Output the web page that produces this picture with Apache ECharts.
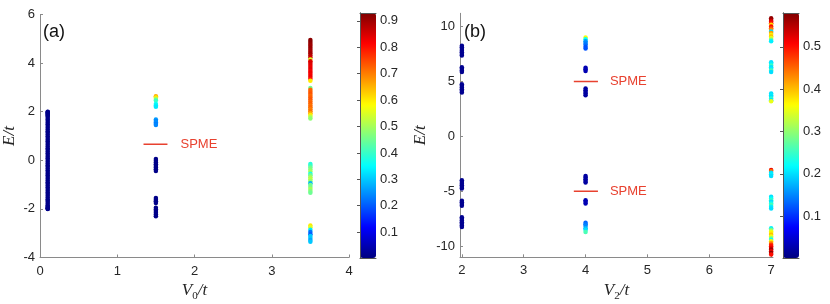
<!DOCTYPE html>
<html><head><meta charset="utf-8">
<script src="https://cdn.jsdelivr.net/npm/echarts@6/dist/echarts.min.js"></script>
<style>html,body{margin:0;padding:0;background:#fff}#c{width:830px;height:304px}</style>
</head><body><div id="c"></div>
<script>
// ---------- data: panel (a) ----------
const aX = [0.1, 1.5, 3.5];
const a1E = [-2.00,-1.99,-1.97,-1.94,-1.90,-1.85,-1.79,-1.72,-1.66,-1.60,-1.53,-1.46,-1.39,-1.32,-1.25,-1.18,-1.11,-1.04,-0.97,-0.90,-0.83,-0.76,-0.69,-0.62,-0.55,-0.48,-0.41,-0.34,-0.27,-0.20,-0.13,-0.06,
             0.01,0.08,0.15,0.22,0.29,0.36,0.43,0.50,0.57,0.64,0.71,0.78,0.85,0.92,0.99,1.06,1.13,1.20,1.27,1.34,1.41,1.48,1.55,1.62,1.68,1.74,1.80,1.85,1.90,1.94,1.97,1.99,2.00];
const a1W = 0.01;
const a2E = [2.64,2.58,2.52,2.46,2.32,2.26,2.20,1.68,1.62,1.56,1.50,1.45,0.05,-0.02,-0.09,-0.16,-0.23,-0.30,-0.37,-0.44,-1.55,-1.62,-1.69,-1.76,-1.95,-2.02,-2.09,-2.16,-2.23,-2.30];
const a2W = [0.66,0.60,0.50,0.40,0.36,0.34,0.33,0.26,0.24,0.25,0.23,0.24,0.01,0.01,0.01,0.01,0.01,0.01,0.01,0.01,0.01,0.01,0.01,0.01,0.01,0.01,0.01,0.01,0.01,0.01];
const a3E = [4.95,4.87,4.79,4.71,4.63,4.55,4.47,4.39,4.31,4.23,4.15,4.08,4.00,3.92,3.84,3.76,3.68,3.60,3.52,3.44,3.36,3.27,
             2.98,2.90,2.82,2.74,2.66,2.58,2.50,2.42,2.34,2.26,2.18,2.10,2.02,1.94,1.86,1.79,1.72,
             -0.15,-0.22,-0.30,-0.38,-0.46,-0.55,-0.62,-0.70,-0.78,-0.86,-0.94,-1.02,-1.10,-1.18,-1.26,-1.34,
             -2.68,-2.76,-2.86,-2.95,-3.04,-3.12,-3.20,-3.28,-3.35];
const a3W = [0.92,0.92,0.91,0.90,0.91,0.90,0.89,0.90,0.88,0.86,0.55,0.84,0.85,0.84,0.83,0.84,0.82,0.83,0.82,0.83,0.80,0.60,
             0.45,0.72,0.73,0.74,0.72,0.73,0.74,0.72,0.73,0.71,0.72,0.70,0.71,0.66,0.60,0.52,0.48,
             0.38,0.40,0.45,0.47,0.50,0.37,0.45,0.50,0.52,0.48,0.28,0.45,0.46,0.50,0.47,0.45,
             0.60,0.55,0.33,0.22,0.20,0.30,0.30,0.27,0.30];
const aSpme = {x: [1.34, 1.65], y: 0.66};
const aCbarTicks = [0.1,0.2,0.3,0.4,0.5,0.6,0.7,0.8,0.9];
const aCbarRange = [0.002, 0.93];

// ---------- data: panel (b) ----------
const bX = [2, 4, 7];
const b1E = [8.25,8.10,7.95,7.80,7.65,7.50,7.35,6.30,6.15,6.00,5.85,4.75,4.60,4.45,4.30,4.15,4.00,
             -4.00,-4.15,-4.30,-4.45,-4.60,-4.75,-5.85,-6.00,-6.15,-6.30,-7.35,-7.50,-7.65,-7.80,-7.95,-8.10,-8.25];
const b1W = 0.01;
const b2E = [9.00,8.85,8.65,8.50,8.35,8.15,8.00,6.25,6.10,5.95,4.35,4.20,4.05,3.90,3.75,
             -3.60,-3.75,-3.90,-4.05,-4.20,-5.80,-5.95,-6.10,-7.85,-8.00,-8.15,-8.35,-8.50,-8.70];
const b2W = [0.36,0.22,0.16,0.15,0.14,0.12,0.12,0.03,0.03,0.03,0.02,0.02,0.02,0.02,0.02,
             0.02,0.02,0.02,0.02,0.02,0.03,0.03,0.03,0.13,0.14,0.15,0.18,0.20,0.26];
const b3E = [10.75,10.60,10.45,10.30,10.15,10.00,9.85,9.70,9.55,9.40,9.25,9.10,8.95,8.80,8.65,
             6.75,6.60,6.45,6.30,6.15,6.00,5.85,
             3.90,3.75,3.60,3.45,3.30,3.20,
             -3.05,-3.15,-3.30,-3.45,-3.60,
             -5.50,-5.65,-5.80,-5.95,-6.10,-6.25,-6.40,-6.55,
             -8.35,-8.50,-8.65,-8.80,-8.95,-9.10,-9.25,-9.40,-9.55,-9.70,-9.85,-10.00,-10.15,-10.30,-10.45,-10.60,-10.75];
const b3W = [0.57,0.56,0.52,0.50,0.38,0.50,0.47,0.43,0.20,0.42,0.37,0.40,0.35,0.28,0.21,
             0.20,0.21,0.25,0.20,0.21,0.26,0.20,
             0.20,0.21,0.20,0.24,0.20,0.35,
             0.52,0.45,0.20,0.21,0.20,
             0.20,0.22,0.25,0.20,0.23,0.26,0.21,0.20,
             0.21,0.28,0.35,0.37,0.40,0.36,0.30,0.22,0.37,0.42,0.48,0.50,0.52,0.56,0.52,0.57,0.50];
const bSpme = {x: [3.81, 4.20], y: [5, -5]};
const bCbarTicks = [0.1,0.2,0.3,0.4,0.5];
const bCbarRange = [0.001, 0.58];
const bYTicks = [-10,-5,0,5,10];
const bXTicks = [2,3,4,5,6,7];

// ---------- build ----------
const jet = ['#000080','#0000ff','#0080ff','#00ffff','#80ff80','#ffff00','#ff8000','#ff0000','#800000'];
function pts(x, E, W) { return E.map((e, i) => [x, e, Array.isArray(W) ? W[i] : W]); }
const aData = [].concat(pts(aX[0], a1E, a1W), pts(aX[1], a2E, a2W), pts(aX[2], a3E, a3W));
const bData = [].concat(pts(bX[0], b1E, b1W), pts(bX[1], b2E, b2W), pts(bX[2], b3E, b3W));

const FONT = 'Liberation Sans, Arial, Helvetica, sans-serif';
const TXT = '#262626';
const AX = '#8a8a8a';
const RED = '#e8412f';
const lab = {color: TXT, fontSize: 13, fontFamily: FONT};
const nameRich = {
  i: {fontFamily: 'Liberation Serif, Times New Roman, serif', fontStyle: 'italic', fontSize: 17, color: TXT},
  s: {fontFamily: 'Liberation Serif, Times New Roman, serif', fontSize: 11, color: TXT, verticalAlign: 'bottom', padding: [10,0,0,0]}
};

function mainX(grid, min, max, interval, name, custom) {
  const o = {type: 'value', gridIndex: grid, min, max, position: 'bottom',
    axisLine: {show: true, onZero: false, lineStyle: {color: AX, width: 1}},
    axisTick: {show: true, inside: true, length: 3, lineStyle: {color: AX}},
    axisLabel: Object.assign({margin: 7}, lab),
    splitLine: {show: false},
    name, nameLocation: 'middle', nameGap: 19, nameTextStyle: {rich: nameRich}};
  if (custom) { o.axisLabel.customValues = custom; o.axisTick.customValues = custom; }
  else o.interval = interval;
  return o;
}
function mainY(grid, min, max, interval, gap, custom) {
  const o = {type: 'value', gridIndex: grid, min, max, position: 'left',
    axisLine: {show: true, onZero: false, lineStyle: {color: AX, width: 1}},
    axisTick: {show: true, inside: true, length: 3, lineStyle: {color: AX}},
    axisLabel: Object.assign({margin: 5}, lab),
    splitLine: {show: false},
    name: '{i|E/t}', nameLocation: 'middle', nameGap: gap, nameRotate: 90,
    nameTextStyle: {rich: nameRich}};
  if (custom) { o.axisLabel.customValues = custom; o.axisTick.customValues = custom; }
  else o.interval = interval;
  return o;
}
function cbarAxes(grid, range, ticks) {
  const line = {show: true, lineStyle: {color: '#555', width: 1}};
  return {
    x: [
      {type: 'value', gridIndex: grid, position: 'bottom', min: 0, max: 1, axisLine: line, axisTick: {show: false}, axisLabel: {show: false}, splitLine: {show: false}, z: 10},
      {type: 'value', gridIndex: grid, position: 'top', min: 0, max: 1, axisLine: line, axisTick: {show: false}, axisLabel: {show: false}, splitLine: {show: false}, z: 10}
    ],
    y: [
      {type: 'value', gridIndex: grid, position: 'left', min: range[0], max: range[1], axisLine: line, axisTick: {show: false}, axisLabel: {show: false}, splitLine: {show: false}, z: 10},
      {type: 'value', gridIndex: grid, position: 'right', min: range[0], max: range[1], axisLine: line,
        axisTick: {show: true, inside: true, length: 3, customValues: ticks, lineStyle: {color: '#555'}},
        axisLabel: Object.assign({margin: 4, customValues: ticks, formatter: v => v.toFixed(1)}, lab),
        splitLine: {show: false}, z: 10}
    ]
  };
}
const cA = cbarAxes(1, aCbarRange, aCbarTicks);
const cB = cbarAxes(3, bCbarRange, bCbarTicks);
const gridBase = {outerBoundsMode: 'none', containLabel: false};

const option = {
  animation: false,
  backgroundColor: '#fff',
  textStyle: {fontFamily: FONT},
  title: [
    {text: '(a)', left: 43, top: 23, padding: 0, textStyle: {fontSize: 18, fontWeight: 'normal', color: '#111', fontFamily: FONT}},
    {text: '(b)', left: 464, top: 23, padding: 0, textStyle: {fontSize: 18, fontWeight: 'normal', color: '#111', fontFamily: FONT}}
  ],
  grid: [
    Object.assign({left: 40, top: 14.5, width: 309, height: 243}, gridBase),
    Object.assign({left: 360, top: 13, width: 16, height: 245}, gridBase),
    Object.assign({left: 460, top: 13.3, width: 313, height: 244}, gridBase),
    Object.assign({left: 783, top: 13, width: 16, height: 245}, gridBase)
  ],
  xAxis: [
    mainX(0, 0, 4, 1, '{i|V}{s|0}{i|/t}'),
    cA.x[0], cA.x[1],
    mainX(2, 1.97, 7.03, null, '{i|V}{s|2}{i|/t}', bXTicks),
    cB.x[0], cB.x[1]
  ],
  yAxis: [
    mainY(0, -4, 6, 2, 22),
    cA.y[0], cA.y[1],
    mainY(2, -11, 11.2, null, 31, bYTicks),
    cB.y[0], cB.y[1]
  ],
  visualMap: [
    {type: 'continuous', seriesIndex: 0, dimension: 2, min: aCbarRange[0], max: aCbarRange[1],
     inRange: {color: jet}, left: 360, top: 13, itemWidth: 16, itemHeight: 245, padding: 0,
     calculable: false, text: null, hoverLink: false, z: 4},
    {type: 'continuous', seriesIndex: 3, dimension: 2, min: bCbarRange[0], max: bCbarRange[1],
     inRange: {color: jet}, left: 783, top: 13, itemWidth: 16, itemHeight: 245, padding: 0,
     calculable: false, text: null, hoverLink: false, z: 4}
  ],
  series: [
    {type: 'scatter', xAxisIndex: 0, yAxisIndex: 0, data: aData, symbolSize: 4.5, itemStyle: {opacity: 1}},
    {type: 'line', xAxisIndex: 0, yAxisIndex: 0, symbol: 'none', silent: true,
     data: [[aSpme.x[0], aSpme.y], [aSpme.x[1], aSpme.y]],
     lineStyle: {color: RED, width: 1.5},
     endLabel: {show: true, formatter: 'SPME', color: RED, fontSize: 13, fontFamily: FONT, distance: 13}},
    {type: 'line', xAxisIndex: 3, yAxisIndex: 3, symbol: 'none', silent: true,
     data: [[bSpme.x[0], bSpme.y[0]], [bSpme.x[1], bSpme.y[0]]],
     lineStyle: {color: RED, width: 1.5},
     endLabel: {show: true, formatter: 'SPME', color: RED, fontSize: 13, fontFamily: FONT, distance: 12}},
    {type: 'scatter', xAxisIndex: 3, yAxisIndex: 3, data: bData, symbolSize: 4.5, itemStyle: {opacity: 1}},
    {type: 'line', xAxisIndex: 3, yAxisIndex: 3, symbol: 'none', silent: true,
     data: [[bSpme.x[0], bSpme.y[1]], [bSpme.x[1], bSpme.y[1]]],
     lineStyle: {color: RED, width: 1.5},
     endLabel: {show: true, formatter: 'SPME', color: RED, fontSize: 13, fontFamily: FONT, distance: 12}}
  ]
};
const chart = echarts.init(document.getElementById('c'), null, {renderer: 'canvas'});
chart.setOption(option);
</script></body></html>
